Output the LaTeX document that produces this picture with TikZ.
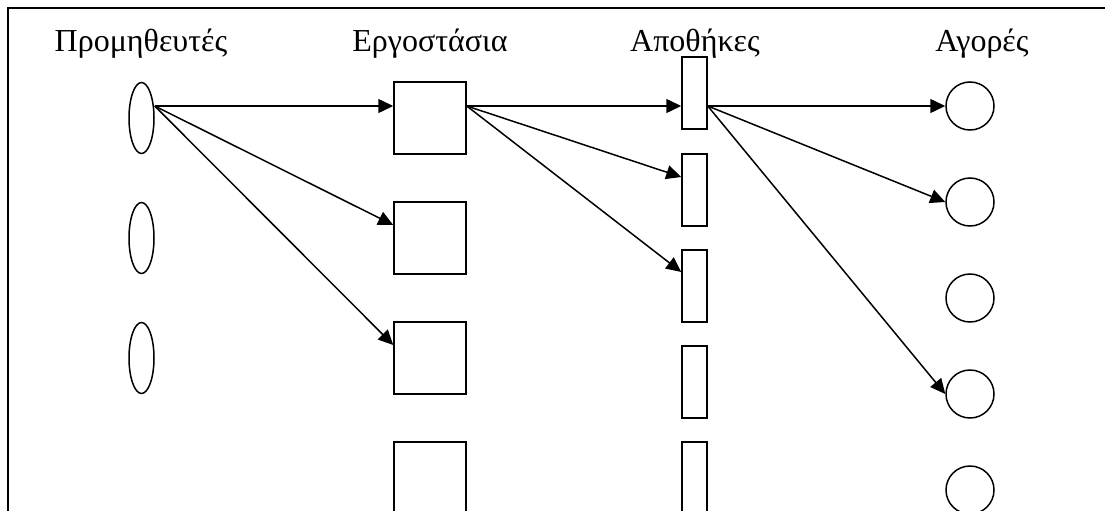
\documentclass[tikz,border=0pt]{standalone}
\usepackage{fontspec}
\setmainfont{Liberation Serif}
\usetikzlibrary{arrows.meta,shapes.geometric}

\begin{document}
\begin{tikzpicture}[
    every node/.style={font=\fontsize{32}{38}\selectfont},
    head/.style={anchor=base,inner sep=0pt},
    sup/.style={draw,ellipse,inner sep=0pt,minimum width=25,minimum height=71},
    fac/.style={draw,rectangle,inner sep=0pt,minimum width=72,minimum height=72},
    wh/.style={draw,rectangle,inner sep=0pt,minimum width=25,minimum height=72},
    mkt/.style={draw,circle,inner sep=0pt,minimum size=48},
    arr/.style={-{Triangle[length=15pt,width=14pt]},line width=1.5pt},
    x=1pt,y=-1pt,
  ]
    \clip (0,0) rectangle (1105,511);
    \useasboundingbox (0,0) rectangle (1105,511);
    \draw[line width=2.8pt] (8,515) -- (8,8) -- (1110,8);

    % column headings
    \node[head] (hsup) at (141,52) {Προμηθευτές};
    \node[head] (hfac) at (430,52) {Εργοστάσια};
    \node[head] (hwh)  at (695,52) {Αποθήκες};
    \node[head] (hmkt) at (982,52) {Αγορές};

    \begin{scope}[line width=1.5pt]
    % suppliers
    \node[sup] (s1) at (141.5,118) {};
    \node[sup] (s2) at (141.5,238) {};
    \node[sup] (s3) at (141.5,358) {};
    % factories
    \node[fac] (f1) at (430,118) {};
    \node[fac] (f2) at (430,238) {};
    \node[fac] (f3) at (430,358) {};
    \node[fac] (f4) at (430,478) {};
    % warehouses
    \node[wh] (w1) at (694.5,93) {};
    \node[wh] (w2) at (694.5,190) {};
    \node[wh] (w3) at (694.5,286) {};
    \node[wh] (w4) at (694.5,382) {};
    \node[wh] (w5) at (694.5,478) {};
    % markets
    \node[mkt] (m1) at (970,106) {};
    \node[mkt] (m2) at (970,202) {};
    \node[mkt] (m3) at (970,298) {};
    \node[mkt] (m4) at (970,394) {};
    \node[mkt] (m5) at (970,490) {};
    \end{scope}

    \coordinate (s1o) at ([yshift=12pt]s1.east);
    \coordinate (f1o) at ([yshift=12pt]f1.east);
    \coordinate (w1o) at ([yshift=-13pt]w1.east);

    \draw[arr] (s1o) -- ([yshift=12pt]f1.west);
    \draw[arr] (s1o) -- ([yshift=13pt]f2.west);
    \draw[arr] (s1o) -- ([yshift=13pt]f3.west);
    \draw[arr] (f1o) -- (w1.west |- f1o);
    \draw[arr] (f1o) -- ([yshift=13pt]w2.west);
    \draw[arr] (f1o) -- ([yshift=14pt]w3.west);
    \draw[arr] (w1o) -- (m1.west);
    \draw[arr] (w1o) -- (m2.west);
    \draw[arr] (w1o) -- (m4.west);
  \end{tikzpicture}
\end{document}
